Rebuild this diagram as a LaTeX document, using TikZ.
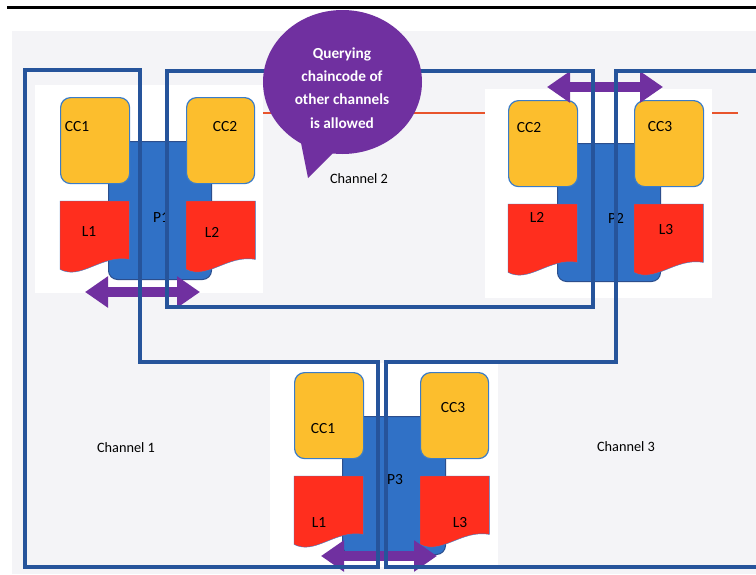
\documentclass[tikz,border=0pt]{standalone}
\usepackage{fontspec}
\setmainfont{Carlito}
\usetikzlibrary{arrows.meta,shapes.geometric}

\definecolor{chanblue}{RGB}{38,84,155}
\definecolor{peerblue}{RGB}{48,113,198}
\definecolor{peeredge}{RGB}{44,78,140}
\definecolor{ccyellow}{RGB}{252,190,45}
\definecolor{ccedge}{RGB}{58,124,200}
\definecolor{ledgerred}{RGB}{255,46,30}
\definecolor{bubblepurple}{RGB}{112,48,160}
\definecolor{canvasgray}{RGB}{244,244,247}
\definecolor{thinred}{RGB}{232,84,44}

\tikzset{
  lbl/.style={font=\fontsize{14.3}{16}\selectfont, text=black, inner sep=0pt},
  plbl/.style={font=\fontsize{15.5}{17}\selectfont, text=black, inner sep=0pt},
  ccbox/.style={draw=ccedge, line width=1.2pt, fill=ccyellow, rounded corners=10pt,
    minimum width=69pt, minimum height=86pt, inner sep=0pt, anchor=north west},
  peerbody/.style={draw=peeredge, line width=1pt, fill=peerblue, rounded corners=9pt,
    minimum width=103pt, minimum height=138pt, inner sep=0pt, anchor=north west},
  ledgerbox/.style={minimum width=69pt, minimum height=68pt, inner sep=0pt, anchor=north west},
  panel/.style={fill=white, draw=none},
  chan/.style={draw=chanblue, line width=4pt, line join=miter},
  dblarrow/.style={draw=bubblepurple, line width=10pt,
    {Triangle[width=30pt,length=23pt]}-{Triangle[width=30pt,length=23pt]}},
}

% ledger: a document shape with a wavy lower edge
\newcommand\ledgershape[2]{%
  \node[ledgerbox] (#1) at (#2) {};
  \fill[ledgerred, draw=ccedge, line width=0.4pt] (#1.north west) -- (#1.north east)
    -- ([yshift=10pt]#1.south east)
    .. controls ([xshift=-28pt,yshift=15pt]#1.south east)
    and ([xshift=21pt,yshift=-11pt]#1.south west) .. (#1.south west) -- cycle;
}

\begin{document}
\begin{tikzpicture}[x=1pt,y=-1pt]
\useasboundingbox (0,0) rectangle (756,574);
\fill[white] (0,0) rectangle (756,574);
\fill[canvasgray] (12,31) rectangle (756,574);
\draw[black, line width=3pt] (7,7.5) -- (756,7.5);

% thin red rule running behind the peers
\coordinate (rs) at (36,113);
\coordinate (re) at (738,113);
\draw[thinred, line width=1.2pt] (rs) -- (re);

% white panels behind each peer
\fill[panel] (35,85) rectangle (263,293);
\fill[panel] (485,89) rectangle (712,298);
\fill[panel] (270,363) rectangle (498,567);

% ---------- Peer P1 ----------
\begin{scope}[shift={(60,97)}]
  \node[peerbody] (p1) at (48,44) {};
  \node[ccbox] (p1cca) at (0,0) {};
  \node[ccbox, minimum width=68pt] (p1ccb) at (126,0) {};
  \ledgershape{p1la}{0,104}
  \ledgershape{p1lb}{126,104}
  \node[plbl] (p1ccat) at (17,30) {CC1};
  \node[plbl] (p1ccbt) at (165,30) {CC2};
  \node[plbl] (p1lat) at (29,135) {L1};
  \node[plbl] (p1lbt) at (152,135) {L2};
  \node[plbl] (p1t) at (101,121) {P1};
\end{scope}

% ---------- Peer P2 ----------
\begin{scope}[shift={(508,100)}]
  \node[peerbody] (p2) at (49,43) {};
  \node[ccbox] (p2cca) at (0,0) {};
  \node[ccbox] (p2ccb) at (126,0) {};
  \ledgershape{p2la}{0,104}
  \ledgershape{p2lb}{126,104}
  \node[plbl] (p2ccat) at (21,28) {CC2};
  \node[plbl] (p2ccbt) at (152,27) {CC3};
  \node[plbl] (p2lat) at (29,117) {L2};
  \node[plbl] (p2lbt) at (158,130) {L3};
  \node[plbl] (p2t) at (108,118) {P2};
\end{scope}

% ---------- Peer P3 ----------
\begin{scope}[shift={(294,372)}]
  \node[peerbody] (p3) at (48,44) {};
  \node[ccbox] (p3cca) at (0,0) {};
  \node[ccbox, minimum width=68pt] (p3ccb) at (126,0) {};
  \ledgershape{p3la}{0,104}
  \ledgershape{p3lb}{126,104}
  \node[plbl] (p3ccat) at (29,57) {CC1};
  \node[plbl] (p3ccbt) at (159,36) {CC3};
  \node[plbl] (p3lat) at (25,151) {L1};
  \node[plbl] (p3lbt) at (166,151) {L3};
  \node[plbl] (p3t) at (101,108) {P3};
\end{scope}

% double arrows between the channels a peer joins
\coordinate (a1l) at (85,292);  \coordinate (a1r) at (200,292);
\coordinate (a2l) at (547,87);  \coordinate (a2r) at (663,87);
\coordinate (a3l) at (321,556); \coordinate (a3r) at (437,556);
\draw[dblarrow] (a1l) -- (a1r);
\draw[dblarrow] (a2l) -- (a2r);
\draw[dblarrow] (a3l) -- (a3r);

% channel outlines
\draw[chan] (25,70) -- (140,70) -- (140,362) -- (378,362) -- (378,567) -- (25,567) -- cycle;
\draw[chan] (167,71) rectangle (593,307);
\draw[chan] (760,71) -- (616,71) -- (616,362) -- (386,362) -- (386,567) -- (760,567);

% speech bubble
\node[ellipse, fill=bubblepurple, minimum width=159pt, minimum height=144pt, inner sep=0pt]
  (bubble) at (342.5,82) {};
\fill[bubblepurple] (300,138) -- (308,178) -- (338,148) -- cycle;
\node[text=white, align=center, inner sep=0pt,
  font=\fontsize{15.3}{23.3}\selectfont\bfseries] (bubbletext) at (342,88)
  {Querying\\chaincode of\\other channels\\is allowed};

% channel names
\node[lbl] (ch1) at (126,448) {Channel 1};
\node[lbl] (ch2) at (359,179) {Channel 2};
\node[lbl] (ch3) at (626,447) {Channel 3};
\end{tikzpicture}
\end{document}
